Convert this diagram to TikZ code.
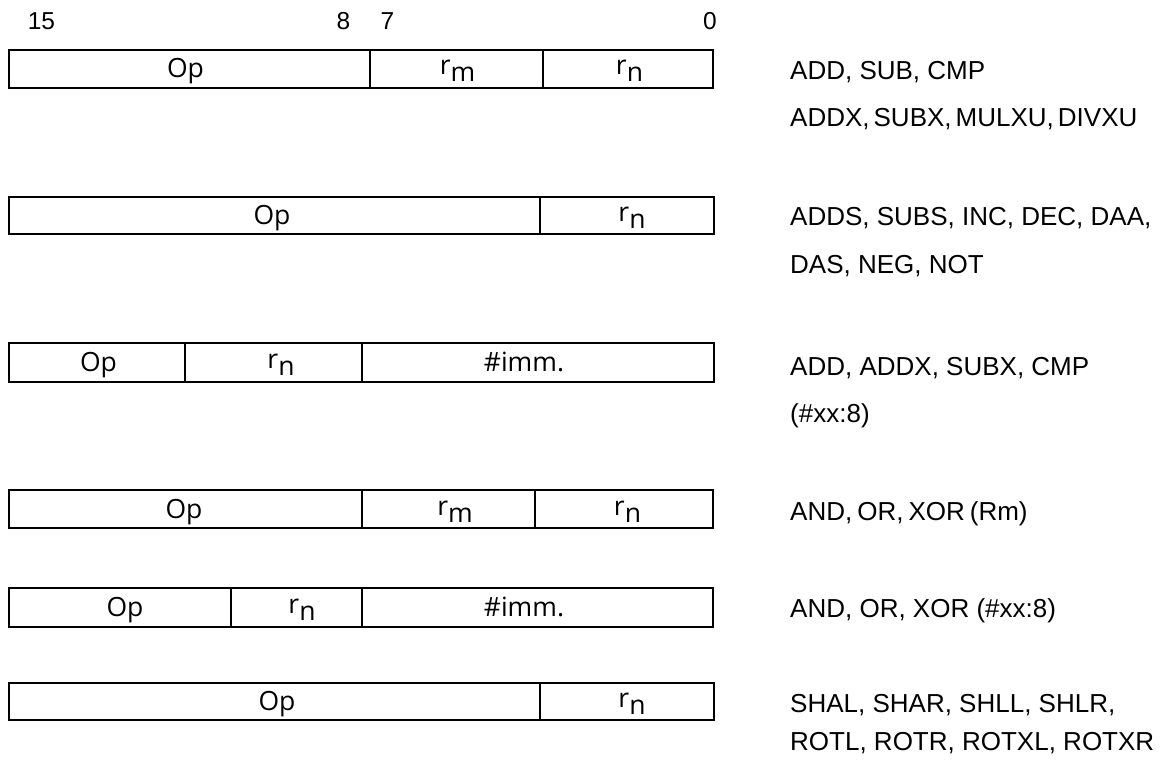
\documentclass[tikz,border=0pt]{standalone}
\usepackage{fontspec}
\setmainfont{Liberation Sans}
\newfontfamily\boxfont{Open Sans}
\newcommand\regname[1]{r\raisebox{-7pt}{#1}}
\begin{document}
\begin{tikzpicture}[x=1pt,y=-1pt,
  fld/.style={draw=black, line width=2.6pt},
  oplbl/.style={anchor=base, inner sep=0pt, font=\boxfont\fontsize{26.5}{31}\selectfont},
  desc/.style={anchor=base west, inner sep=0pt, font=\fontsize{26}{31}\selectfont},
  bitno/.style={anchor=base, inner sep=0pt, font=\fontsize{24.5}{29}\selectfont}]
\useasboundingbox (0,0) rectangle (1169,767);
% bit numbers
\node[bitno] (b15) at (41.5,30) {15};
\node[bitno] (b8) at (343.5,30) {8};
\node[bitno] (b7) at (387.5,30) {7};
\node[bitno] (b0) at (710,30) {0};
% row 1
\draw[fld] (9,50) rectangle (370,88) (370,50) rectangle (543,88) (543,50) rectangle (713,88);
\node[oplbl] (r1op) at (185.5,78) {Op};
\node[oplbl] (r1rm) at (457.5,75) {\regname{m}};
\node[oplbl] (r1rn) at (629.5,75) {\regname{n}};
\node[desc] (d1a) at (790,80) {ADD, SUB, CMP};
\node[desc] (d1b) at (790,127) {ADDX,\hspace{4pt}SUBX,\hspace{4pt}MULXU,\hspace{4pt}DIVXU};
% row 2
\draw[fld] (9,197) rectangle (540,234) (540,197) rectangle (714,234);
\node[oplbl] (r2op) at (272,224.5) {Op};
\node[oplbl] (r2rn) at (632,221.5) {\regname{n}};
\node[desc] (d2a) at (790,226) {ADDS, SUBS, INC, DEC, DAA,};
\node[desc] (d2b) at (790,273) {DAS, NEG, NOT};
% row 3
\draw[fld] (9,343) rectangle (185,382) (185,343) rectangle (362,382) (362,343) rectangle (714,382);
\node[oplbl] (r3op) at (98.5,371.5) {Op};
\node[oplbl] (r3rn) at (281,368.5) {\regname{n}};
\node[oplbl] (r3imm) at (524,371.5) {\#imm.};
\node[desc] (d3a) at (790,375) {ADD, ADDX, SUBX, CMP};
\node[desc] (d3b) at (790,422) {(\#xx:8)};
% row 4
\draw[fld] (9,490) rectangle (362,528) (362,490) rectangle (535,528) (535,490) rectangle (713,528);
\node[oplbl] (r4op) at (184,518) {Op};
\node[oplbl] (r4rm) at (455,515) {\regname{m}};
\node[oplbl] (r4rn) at (627.5,515) {\regname{n}};
\node[desc] (d4a) at (790,520) {AND,\hspace{5pt}OR,\hspace{5pt}XOR\hspace{5pt}(Rm)};
% row 5
\draw[fld] (9,588) rectangle (231,627) (231,588) rectangle (362,627) (362,588) rectangle (713,627);
\node[oplbl] (r5op) at (125,616.5) {Op};
\node[oplbl] (r5rn) at (302,613.5) {\regname{n}};
\node[oplbl] (r5imm) at (524,616.5) {\#imm.};
\node[desc] (d5a) at (790,617) {AND, OR, XOR (\#xx:8)};
% row 6
\draw[fld] (9,683) rectangle (540,720) (540,683) rectangle (714,720);
\node[oplbl] (r6op) at (277,710.5) {Op};
\node[oplbl] (r6rn) at (632,707.5) {\regname{n}};
\node[desc] (d6a) at (790,712) {SHAL, SHAR, SHLL, SHLR,};
\node[desc] (d6b) at (790,750) {ROTL, ROTR, ROTXL, ROTXR};
\end{tikzpicture}
\end{document}
